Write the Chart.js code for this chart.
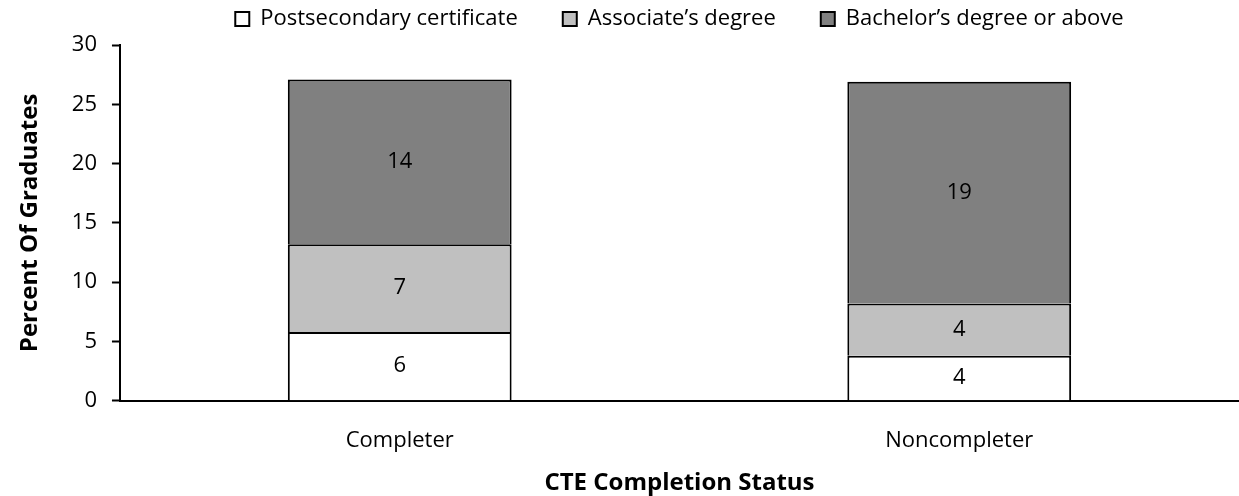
<!DOCTYPE html>
<html>
<head>
<meta charset="utf-8">
<script src="https://cdn.jsdelivr.net/npm/chart.js@4"></script>
<style>
  html, body { margin: 0; padding: 0; background: #fff; }
  #wrap { width: 1239px; height: 496px; position: relative; }
</style>
</head>
<body>
<div id="wrap"><canvas id="chart"></canvas></div>
<script>
// Données
const categories = ['Completer', 'Noncompleter'];
const seriesNames = ['Postsecondary certificate', 'Associate\u2019s degree', 'Bachelor\u2019s degree or above'];
const certificate = [5.8, 3.8];
const associate = [7.4, 4.4];
const bachelor = [13.9, 18.7];
const yTicks = [0, 5, 10, 15, 20, 25, 30];

const FONT = '"Open Sans", "Noto Sans", sans-serif';

// Étiquettes de valeurs au centre de chaque segment
const valueLabels = {
  id: 'valueLabels',
  afterDatasetsDraw(chart) {
    const ctx = chart.ctx;
    ctx.save();
    ctx.font = '22px ' + FONT;
    ctx.fillStyle = '#000';
    ctx.textAlign = 'center';
    ctx.textBaseline = 'middle';
    chart.data.datasets.forEach((ds, i) => {
      chart.getDatasetMeta(i).data.forEach((bar, j) => {
        ctx.fillText(Math.round(ds.data[j]), bar.x, (bar.y + bar.base) / 2);
      });
    });
    ctx.restore();
  }
};

// Légende : espacement horizontal large mais hauteur réduite
const legendFit = {
  id: 'legendFit',
  beforeInit(chart) {
    const fit = chart.legend.fit;
    chart.legend.fit = function() {
      fit.bind(chart.legend)();
      this.height += 5;
    };
  }
};

new Chart(document.getElementById('chart'), {
  type: 'bar',
  data: {
    labels: categories,
    datasets: [
      { label: seriesNames[0], data: certificate, backgroundColor: '#ffffff' },
      { label: seriesNames[1], data: associate, backgroundColor: '#c0c0c0' },
      { label: seriesNames[2], data: bachelor, backgroundColor: '#808080' }
    ].map(d => Object.assign(d, {
      borderColor: '#000',
      borderWidth: 2,
      barPercentage: 0.4,
      categoryPercentage: 1
    }))
  },
  options: {
    responsive: true,
    maintainAspectRatio: false,
    animation: false,
    layout: { padding: { top: -37, right: 0, left: 0, bottom: -2 } },
    plugins: {
      legend: {
        position: 'top',
        fullSize: false,
        labels: {
          font: { family: FONT, size: 22 },
          color: '#000',
          boxWidth: 14,
          boxHeight: 14,
          padding: 45
        }
      },
      tooltip: { enabled: false }
    },
    scales: {
      x: {
        stacked: true,
        grid: { display: false },
        border: { display: true, color: '#000', width: 2 },
        ticks: { font: { family: FONT, size: 22 }, color: '#000', padding: 19 },
        title: {
          display: true,
          text: 'CTE Completion Status',
          font: { family: FONT, size: 24, weight: 'bold' },
          color: '#000',
          padding: { top: -4, bottom: 0 }
        }
      },
      y: {
        stacked: true,
        min: 0,
        max: 30,
        afterBuildTicks: axis => { axis.ticks = yTicks.map(v => ({ value: v })); },
        grid: { drawOnChartArea: false, drawTicks: true, tickLength: 8, tickColor: '#000', tickWidth: 2 },
        border: { display: true, color: '#000', width: 2 },
        ticks: { font: { family: FONT, size: 22 }, color: '#000', padding: 15 },
        title: {
          display: true,
          text: 'Percent Of Graduates',
          font: { family: FONT, size: 24, weight: 'bold' },
          color: '#000',
          padding: { top: 16, bottom: 12 }
        }
      }
    }
  },
  plugins: [valueLabels, legendFit]
});
</script>
</body>
</html>
